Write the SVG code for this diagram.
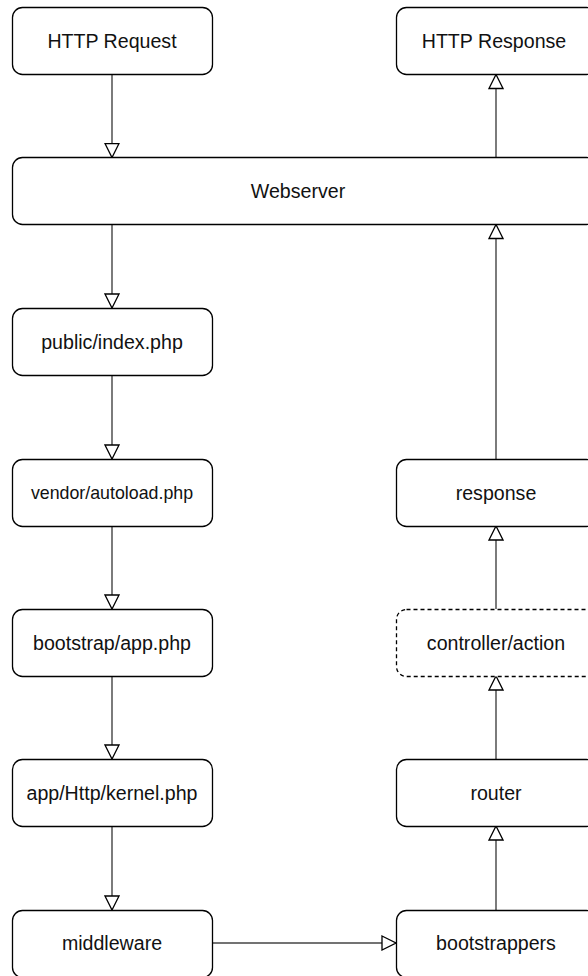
<svg xmlns="http://www.w3.org/2000/svg" width="588" height="976" viewBox="0 0 588 976">
  <style>
    .box { fill: #ffffff; stroke: #000000; stroke-width: 1.3; }
    .dashed { stroke-dasharray: 4 3; }
    .label { font-family: "Liberation Sans", Arial, Helvetica, sans-serif; font-size: 19.6px; fill: #111111; text-anchor: middle; dominant-baseline: central; }
    .small { font-size: 17.8px; }
    .edge { fill: none; stroke: #444444; stroke-width: 1.4; marker-end: url(#open); }
  </style>
  <defs>
    <marker id="open" viewBox="0 0 16 16" markerWidth="16" markerHeight="16" refX="15" refY="8" orient="auto" markerUnits="userSpaceOnUse">
      <path d="M1,1 L15,8 L1,15 Z" fill="#ffffff" stroke="#000000" stroke-width="1.3"/>
    </marker>
  </defs>
  <rect width="588" height="976" fill="#ffffff"/>

  <!-- connectors -->
  <g id="connectors">
    <path class="edge" d="M112,74.5 V157.5"/>
    <path class="edge" d="M496,157.5 V74.5"/>
    <path class="edge" d="M112,224.5 V308"/>
    <path class="edge" d="M496,459 V224.5"/>
    <path class="edge" d="M112,376 V459"/>
    <path class="edge" d="M112,526 V609"/>
    <path class="edge" d="M112,676 V759"/>
    <path class="edge" d="M112,826 V910"/>
    <path class="edge" d="M212.5,943 H396"/>
    <path class="edge" d="M496,910 V826"/>
    <path class="edge" d="M496,759 V676"/>
    <path class="edge" d="M496,609 V526"/>
  </g>

  <!-- nodes -->
  <g id="http-request">
    <rect class="box" x="12.5" y="7.5" width="200" height="67" rx="10"/>
    <text class="label" x="112" y="41">HTTP Request</text>
  </g>
  <g id="http-response">
    <rect class="box" x="396.5" y="7.5" width="200" height="67" rx="10"/>
    <text class="label" x="494" y="41">HTTP Response</text>
  </g>
  <g id="webserver">
    <rect class="box" x="12.5" y="157.5" width="584" height="67" rx="10"/>
    <text class="label" x="298" y="191">Webserver</text>
  </g>
  <g id="public-index">
    <rect class="box" x="12.5" y="308.5" width="200" height="67" rx="10"/>
    <text class="label" x="112" y="342">public/index.php</text>
  </g>
  <g id="vendor-autoload">
    <rect class="box" x="12.5" y="459.5" width="200" height="67" rx="10"/>
    <text class="label small" x="112" y="493">vendor/autoload.php</text>
  </g>
  <g id="bootstrap-app">
    <rect class="box" x="12.5" y="609.5" width="200" height="67" rx="10"/>
    <text class="label" x="112" y="643">bootstrap/app.php</text>
  </g>
  <g id="http-kernel">
    <rect class="box" x="12.5" y="759.5" width="200" height="67" rx="10"/>
    <text class="label" x="112" y="793">app/Http/kernel.php</text>
  </g>
  <g id="middleware">
    <rect class="box" x="12.5" y="910.5" width="200" height="67" rx="10"/>
    <text class="label" x="112" y="943">middleware</text>
  </g>
  <g id="response">
    <rect class="box" x="396.5" y="459.5" width="200" height="67" rx="10"/>
    <text class="label" x="496" y="493">response</text>
  </g>
  <g id="controller-action">
    <rect class="box dashed" x="396.5" y="609.5" width="200" height="67" rx="10"/>
    <text class="label" x="496" y="643">controller/action</text>
  </g>
  <g id="router">
    <rect class="box" x="396.5" y="759.5" width="200" height="67" rx="10"/>
    <text class="label" x="496" y="793">router</text>
  </g>
  <g id="bootstrappers">
    <rect class="box" x="396.5" y="910.5" width="200" height="67" rx="10"/>
    <text class="label" x="496" y="943">bootstrappers</text>
  </g>
</svg>
